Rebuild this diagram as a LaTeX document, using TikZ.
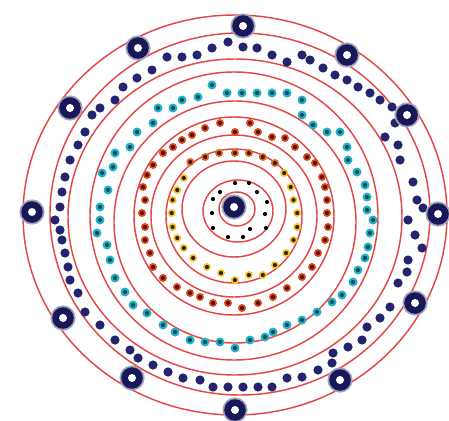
\documentclass[tikz,border=0pt]{standalone}
\definecolor{shellred}{RGB}{228,70,70}
\definecolor{navy}{RGB}{24,24,88}
\definecolor{dotblue}{RGB}{36,36,110}
\definecolor{cyanout}{RGB}{30,178,198}
\definecolor{cyanin}{RGB}{12,70,88}
\definecolor{orout}{RGB}{222,72,26}
\definecolor{orin}{RGB}{80,18,10}
\definecolor{yelout}{RGB}{244,198,40}
\definecolor{yelin}{RGB}{50,30,5}
\definecolor{brout}{RGB}{214,108,34}
\tikzset{
  shell/.style={draw=shellred, line width=1.45pt},
  bigring/.style={fill=navy},
  bdot/.style={fill=dotblue},
  sdot/.style={fill=black}
}
\newcommand{\ringat}[1]{%
  \fill[navy!40] #1 circle (12.6pt);
  \fill[bigring] #1 circle (10.8pt);
  \fill[white] #1 circle (4pt);}
\newcommand{\cored}[4]{% position, outer colour, core colour, radius
  \fill[#2] #1 circle (#4);
  \fill[#3] #1 circle (2.1pt);}
\begin{document}
\begin{tikzpicture}[x=1pt,y=-1pt]
\useasboundingbox (0,0) rectangle (449,420);
\fill[white] (0,0) rectangle (449,420);
% shells
\draw[shell] (235,215) ellipse [x radius=212pt, y radius=200pt];
\draw[shell] (240,214) ellipse [x radius=190pt, y radius=181pt];
\draw[shell] (235,217) ellipse [x radius=167pt, y radius=158pt];
\draw[shell] (234,216) ellipse [x radius=144pt, y radius=144pt];
\draw[shell] (235,222) ellipse [x radius=121pt, y radius=121pt];
\draw[shell] (234,216) ellipse [x radius=100pt, y radius=99pt];
\draw[shell] (234,216) ellipse [x radius=83pt, y radius=81pt];
\draw[shell] (234,216) ellipse [x radius=68pt, y radius=67pt];
\draw[shell] (234,209) ellipse [x radius=52pt, y radius=48pt];
\draw[shell] (238,211) ellipse [x radius=35pt, y radius=31pt];
\draw[shell] (237,209) ellipse [x radius=18pt, y radius=17pt];
% innermost small dots
\foreach \p in {(235,183),(249,183),(220,192),(257,192),(213,199),(267,202),(212,213),(265,214),(213,228),(250,229),(266,228),(228,237),(243,237)}
  \fill[sdot] \p circle (2.1pt);
% yellow shell
\foreach \p in {(190.3,162),(205.2,157),(219.1,153),(234.9,153),(248.9,153),(262.8,157),(274.9,163)}
  {\cored{\p}{brout}{orin}{4pt}}
\foreach \p in {(284.2,173),(290.7,187),(293.5,200),(297.2,213),(297.2,227),(293.5,240),(286.1,253),(274.9,265),(262.8,275),(248.9,275),(234.9,280),(221,273),(207,267),(193.1,258),(183.8,248),(177.3,238),(172.6,227),(171.7,213),(172.6,200),(177.3,190),(183.8,178)}
  {\cored{\p}{yelout}{yelin}{4pt}}
% orange shell
\foreach \p in {(220,123),(235,132),(250,123),(258,132),(272,137),(285,138),(295,147),(307,157),(315,163),(322,177),(325,187),(327,200),(327,213),(328,227),(325,240),(318,253),(312,267),(302,277),(287,288),(273,297),(258,303),(242,308),(228,303),(213,303),(200,297),(190,293),(177,287),(163,278),(153,267),(150,253),(145,240),(145,227),(142,213),(145,200),(143,187),(147,175),(153,165),(163,153),(173,147),(182,140),(192,135),(205,128)}
  {\cored{\p}{orout}{orin}{4pt}}
% cyan shell
\foreach \p in {(212,85),(227,93),(242,93),(257,93),(272,93),(287,93),(302,100),(302,115),(313,125),(327,132),(340,132),(347,147),(348,160),(357,172),(365,185),(367,197),(367,210),(373,220),(370,233),(368,247),(365,258),(358,270),(353,282),(342,295),(332,302),(317,312),(302,320),(287,325),(273,332),(265,337),(250,340),(235,348),(220,342),(205,342),(190,340),(175,332),(163,325),(147,313),(133,305),(125,292),(115,278),(110,260),(107,245),(97,233),(100,220),(100,207),(108,190),(102,173),(113,167),(115,153),(130,147),(137,132),(153,123),(158,108),(173,108),(182,100),(198,97)}
  {\cored{\p}{cyanout}{cyanin}{4.5pt}}
% blue shell
\foreach \p in {(167,57),(182,57),(197,55),(212,48),(228,42),(243,47),(257,48),(272,55),(287,62),(302,55),(310,60),(323,68),(335,75),(347,80),(358,87),(370,93),(380,100),(392,107),(395,123),(385,137),(398,145),(400,160),(413,182),(417,200),(423,208),(408,220),(415,235),(422,248),(408,260),(407,272),(398,283),(390,307),(380,318),(367,327),(362,340),(348,347),(333,353),(332,363),(318,370),(302,377),(287,378),(272,387),(258,387),(243,387),(228,387),(213,387),(200,380),(183,378),(168,372),(153,365),(138,358),(130,350),(115,340),(100,325),(85,312),(78,293),(70,280),(68,267),(65,253),(62,240),(60,230),(55,220),(60,207),(62,192),(65,177),(70,160),(78,145),(85,132),(92,115),(100,108),(115,100),(123,87),(137,78),(152,70)}
  \fill[bdot] \p circle (4.6pt);
% big outer rings
\foreach \p in {(243,26),(138,48),(347,55),(70,108),(407,115),(32,212),(438,214),(63,318),(415,303),(132,378),(340,380),(235,410)}
  {\ringat{\p}}
% nucleus
\ringat{(234,207)}
\end{tikzpicture}
\end{document}
